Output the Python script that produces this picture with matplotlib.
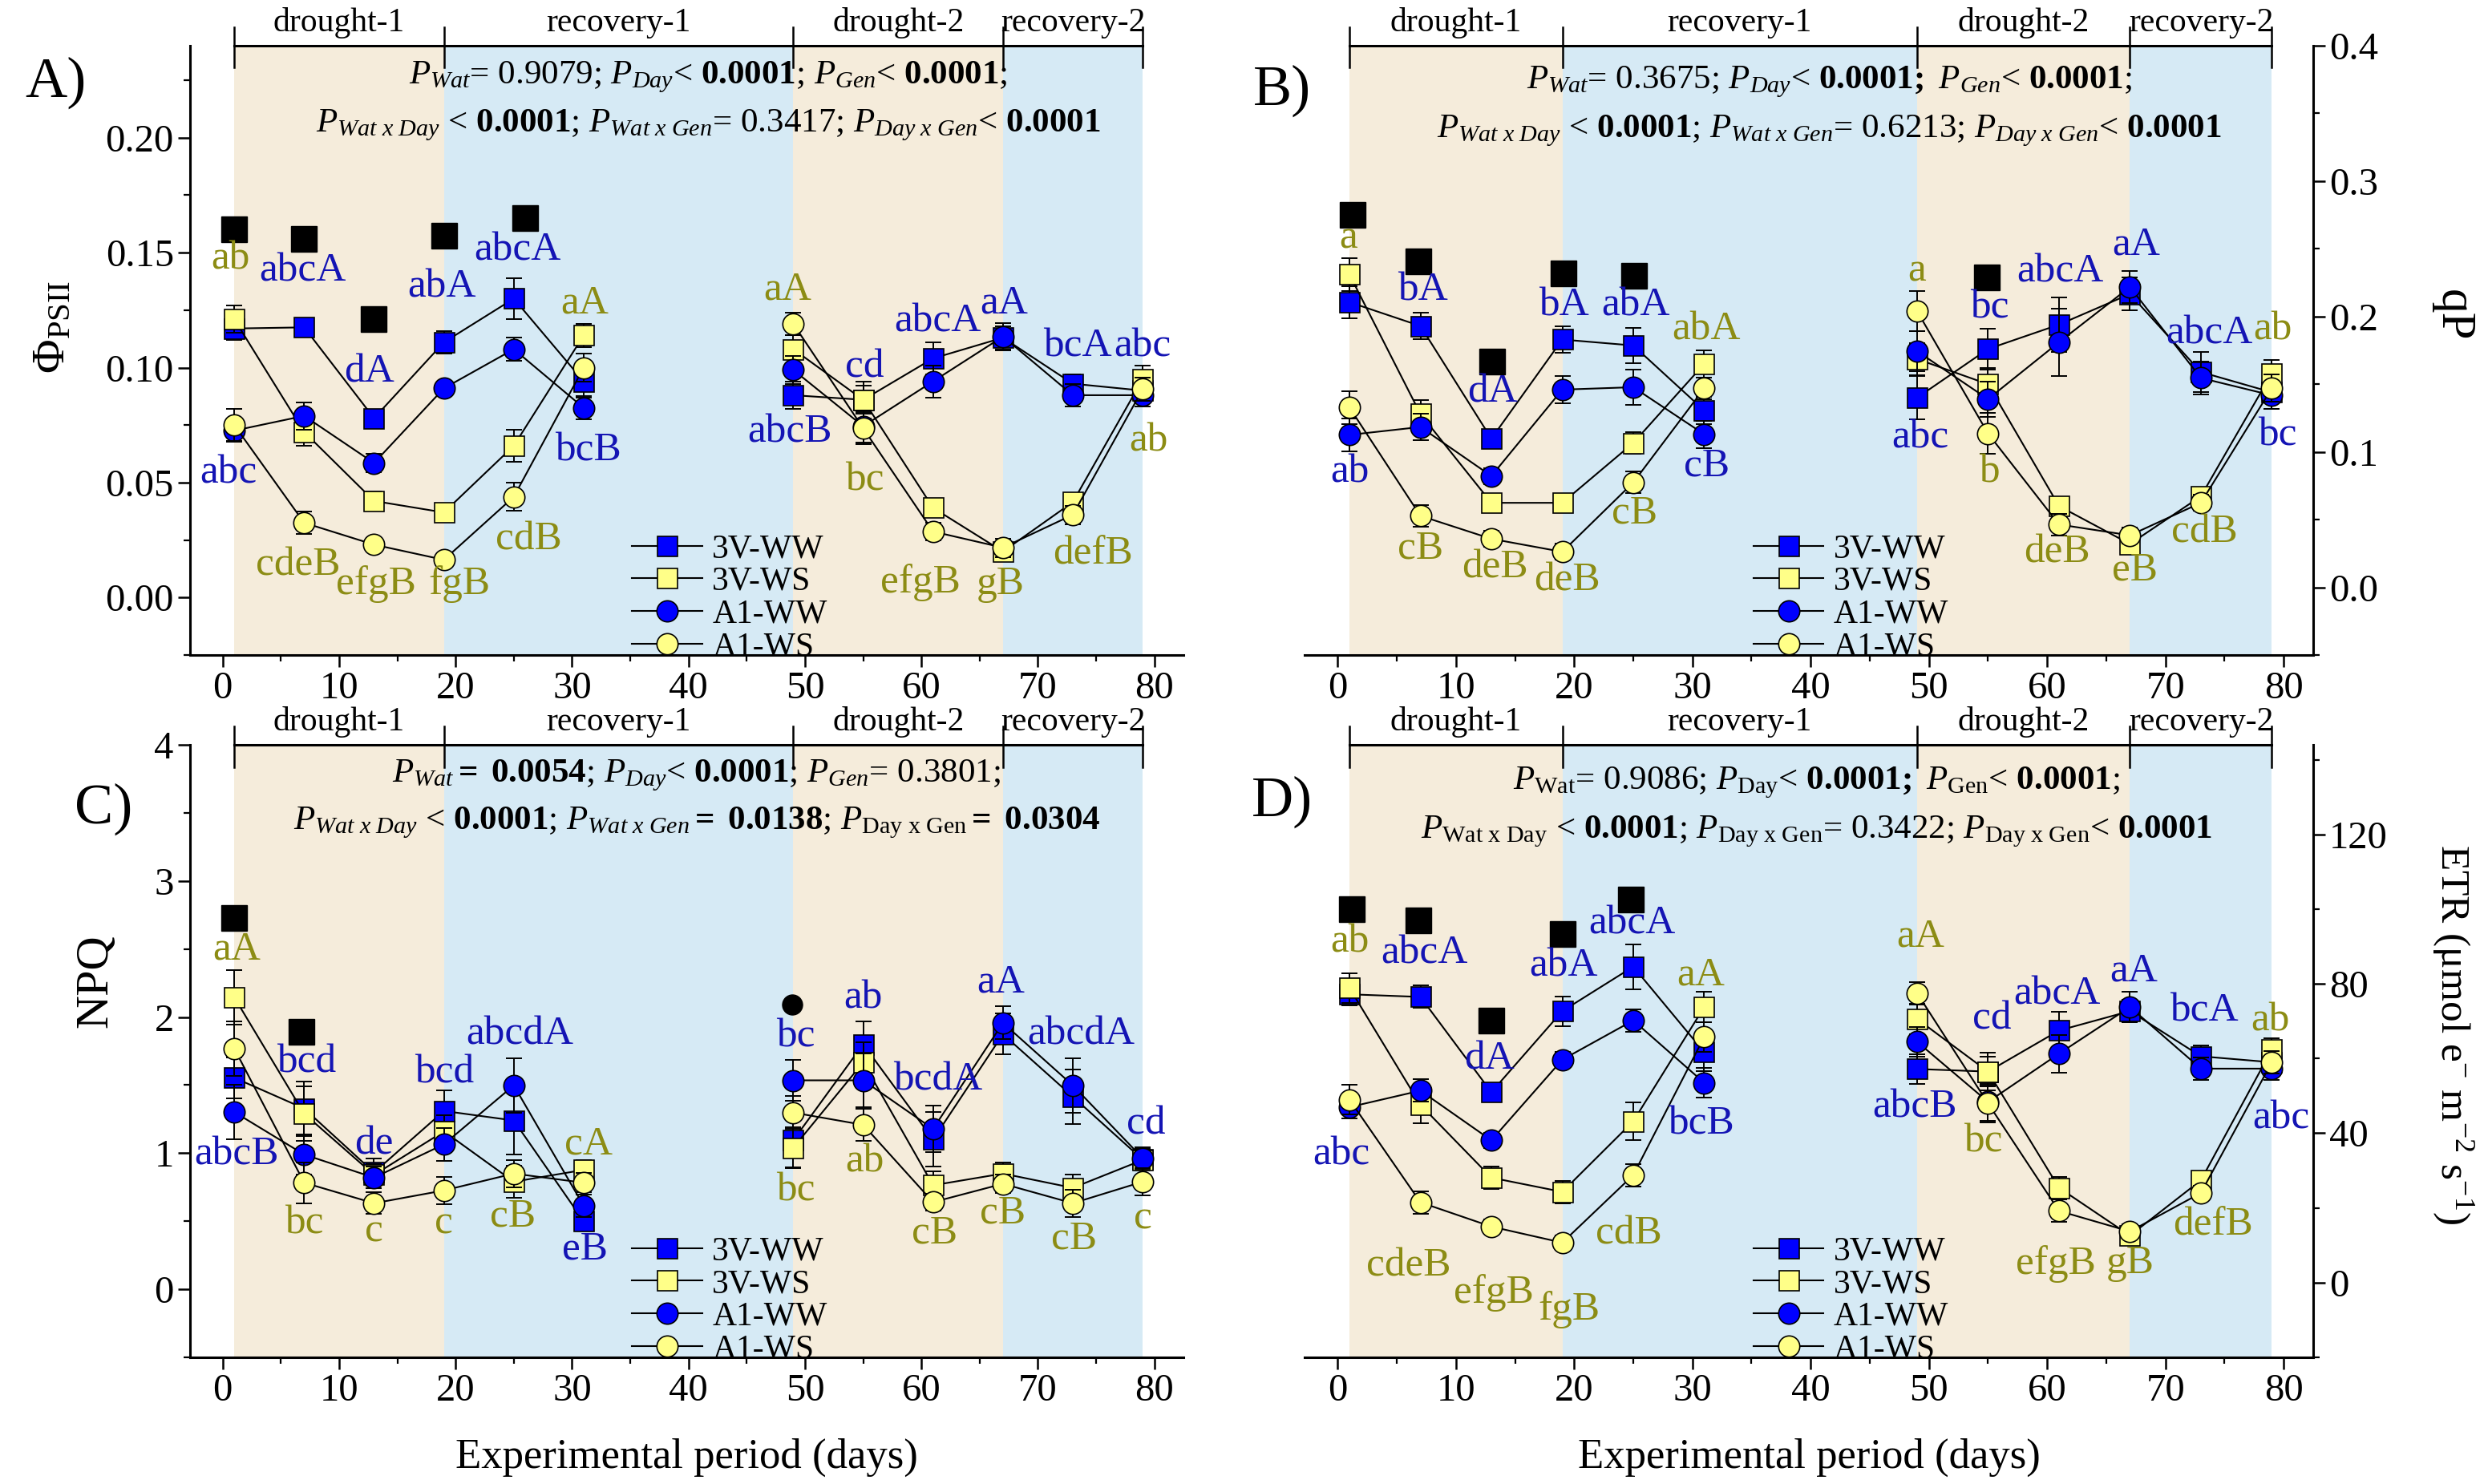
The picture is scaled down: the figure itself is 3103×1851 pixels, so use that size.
import matplotlib
matplotlib.use("Agg")
import matplotlib.pyplot as plt
import matplotlib.transforms as mtransforms
from matplotlib.lines import Line2D
from matplotlib.ticker import MultipleLocator, FormatStrFormatter

plt.rcParams['font.family'] = ['Liberation Serif', 'DejaVu Serif']
plt.rcParams['mathtext.fontset'] = 'custom'
plt.rcParams['mathtext.rm'] = 'Liberation Serif'
plt.rcParams['mathtext.it'] = 'Liberation Serif:italic'
plt.rcParams['mathtext.bf'] = 'Liberation Serif:bold'

# ---------------- data ----------------
days = [1, 7, 13, 19, 25, 31, 49, 55, 61, 67, 73, 79]
series = ['3V-WW', '3V-WS', 'A1-WW', 'A1-WS']
phase_edges = [1, 19, 49, 67, 79]
phase_names = ['drought-1', 'recovery-1', 'drought-2', 'recovery-2']

# Panel A: PhiPSII
phi_3v_ww = [0.117, 0.1175, 0.078, 0.111, 0.130, 0.094, 0.088, 0.086, 0.104, 0.113, 0.093, 0.090]
phi_3v_ws = [0.121, 0.072, 0.042, 0.037, 0.066, 0.114, 0.108, 0.086, 0.039, 0.020, 0.0415, 0.095]
phi_a1_ww = [0.0726, 0.079, 0.0585, 0.091, 0.108, 0.0825, 0.099, 0.0745, 0.094, 0.1135, 0.088, 0.088]
phi_a1_ws = [0.075, 0.0325, 0.023, 0.0164, 0.0438, 0.100, 0.119, 0.0736, 0.0287, 0.0217, 0.036, 0.0906]
phi_e_3v_ww = [0.005, 0.004, 0.003, 0.005, 0.009, 0.007, 0.006, 0.006, 0.007, 0.005, 0.004, 0.005]
phi_e_3v_ws = [0.006, 0.006, 0.004, 0.004, 0.007, 0.005, 0.006, 0.008, 0.004, 0.003, 0.003, 0.006]
phi_e_a1_ww = [0.005, 0.006, 0.004, 0.003, 0.005, 0.005, 0.006, 0.007, 0.007, 0.006, 0.005, 0.005]
phi_e_a1_ws = [0.007, 0.005, 0.003, 0.003, 0.006, 0.006, 0.005, 0.007, 0.004, 0.004, 0.004, 0.005]
phi_sig_days = [1, 7, 13, 19, 26]
phi_sig_vals = [0.160, 0.156, 0.121, 0.1575, 0.165]
phi_sig_mk = ['s', 's', 's', 's', 's']
phi_let_txt = ['ab', 'abcA', 'dA', 'abA', 'abcA', 'aA', 'abc', 'cdeB', 'efgB', 'fgB', 'cdB', 'bcB',
               'aA', 'abcB', 'cd', 'bc', 'abcA', 'efgB', 'aA', 'gB', 'bcA', 'defB', 'abc', 'ab']
phi_let_x = [0.7, 6.9, 12.6, 18.8, 25.3, 31.1, 0.5, 6.5, 13.2, 20.3, 26.3, 31.4,
             48.5, 48.7, 55.1, 55.1, 61.4, 59.9, 67.1, 66.8, 73.4, 74.7, 79.0, 79.5]
phi_let_y = [0.147, 0.142, 0.098, 0.135, 0.151, 0.128, 0.054, 0.014, 0.0057, 0.0057, 0.025, 0.064,
             0.134, 0.072, 0.100, 0.051, 0.120, 0.0066, 0.128, 0.0057, 0.109, 0.019, 0.109, 0.068]
phi_let_grp = ['o', 'b', 'b', 'b', 'b', 'o', 'b', 'o', 'o', 'o', 'o', 'b',
               'o', 'b', 'b', 'o', 'b', 'o', 'b', 'o', 'b', 'o', 'b', 'o']

# Panel B: qP
qp_3v_ww = [0.2106, 0.193, 0.1098, 0.183, 0.1786, 0.1306, 0.140, 0.176, 0.194, 0.2166, 0.159, 0.144]
qp_3v_ws = [0.231, 0.128, 0.0624, 0.0624, 0.1066, 0.165, 0.1686, 0.150, 0.060, 0.032, 0.0672, 0.158]
qp_a1_ww = [0.1126, 0.1184, 0.0822, 0.146, 0.1478, 0.113, 0.1744, 0.139, 0.181, 0.2218, 0.1546, 0.1418]
qp_a1_ws = [0.1328, 0.0528, 0.0358, 0.0262, 0.0774, 0.147, 0.204, 0.1136, 0.0464, 0.0384, 0.0624, 0.147]
qp_e_3v_ww = [0.012, 0.010, 0.006, 0.010, 0.013, 0.010, 0.016, 0.015, 0.020, 0.012, 0.015, 0.012]
qp_e_3v_ws = [0.012, 0.010, 0.005, 0.006, 0.008, 0.010, 0.012, 0.012, 0.006, 0.006, 0.005, 0.010]
qp_e_a1_ww = [0.012, 0.010, 0.006, 0.010, 0.013, 0.010, 0.015, 0.013, 0.025, 0.012, 0.012, 0.010]
qp_e_a1_ws = [0.012, 0.008, 0.006, 0.006, 0.008, 0.008, 0.015, 0.015, 0.008, 0.006, 0.006, 0.010]
qp_sig_days = [1.3, 6.8, 13.1, 19.1, 25.1, 54.9]
qp_sig_vals = [0.275, 0.2406, 0.167, 0.232, 0.2298, 0.2288]
qp_sig_mk = ['s', 's', 's', 's', 's', 's']
qp_let_txt = ['a', 'bA', 'dA', 'bA', 'abA', 'abA', 'ab', 'cB', 'deB', 'deB', 'cB', 'cB',
              'a', 'abc', 'bc', 'b', 'abcA', 'deB', 'aA', 'eB', 'abcA', 'cdB', 'ab', 'bc']
qp_let_x = [0.9, 7.2, 13.1, 19.1, 25.2, 31.2, 1.0, 7.0, 13.3, 19.4, 25.1, 31.2,
            49.0, 49.3, 55.1, 55.1, 61.1, 60.8, 67.5, 67.4, 73.7, 73.3, 79.1, 79.5]
qp_let_y = [0.2576, 0.219, 0.144, 0.208, 0.208, 0.190, 0.0848, 0.0288, 0.0144, 0.0048, 0.0544, 0.0896,
            0.2336, 0.1104, 0.2064, 0.0848, 0.2326, 0.0256, 0.2528, 0.0128, 0.1872, 0.0406, 0.190, 0.112]
qp_let_grp = ['o', 'b', 'b', 'b', 'b', 'o', 'b', 'o', 'o', 'o', 'o', 'b',
              'o', 'b', 'b', 'o', 'b', 'o', 'b', 'o', 'b', 'o', 'o', 'b']

# Panel C: NPQ
npq_3v_ww = [1.554, 1.328, 0.858, 1.31, 1.24, 0.50, 1.095, 1.80, 1.10, 1.874, 1.415, 0.952]
npq_3v_ws = [2.145, 1.29, 0.84, 1.16, 0.79, 0.877, 1.04, 1.667, 0.764, 0.85, 0.745, 0.95]
npq_a1_ww = [1.302, 0.99, 0.82, 1.065, 1.498, 0.613, 1.535, 1.535, 1.178, 1.957, 1.498, 0.963]
npq_a1_ws = [1.769, 0.783, 0.632, 0.726, 0.85, 0.783, 1.298, 1.208, 0.64, 0.775, 0.632, 0.79]
npq_e_3v_ww = [0.15, 0.20, 0.10, 0.15, 0.25, 0.05, 0.20, 0.17, 0.20, 0.15, 0.20, 0.08]
npq_e_3v_ws = [0.20, 0.20, 0.08, 0.12, 0.12, 0.07, 0.15, 0.15, 0.10, 0.08, 0.10, 0.08]
npq_e_a1_ww = [0.20, 0.15, 0.08, 0.12, 0.20, 0.08, 0.15, 0.20, 0.17, 0.12, 0.20, 0.08]
npq_e_a1_ws = [0.20, 0.15, 0.08, 0.10, 0.10, 0.07, 0.12, 0.12, 0.06, 0.07, 0.10, 0.10]
npq_sig_days = [1, 6.8, 48.9]
npq_sig_vals = [2.73, 1.89, 2.09]
npq_sig_mk = ['s', 's', 'o']
npq_let_txt = ['aA', 'bcd', 'de', 'bcd', 'abcdA', 'cA', 'abcB', 'bc', 'c', 'c', 'cB', 'eB',
               'bc', 'bc', 'ab', 'ab', 'bcdA', 'cB', 'aA', 'cB', 'abcdA', 'cB', 'cd', 'c']
npq_let_x = [1.2, 7.2, 13.0, 19.0, 25.5, 31.4, 1.2, 7.0, 13.0, 19.0, 24.9, 31.1,
             49.2, 49.2, 55.0, 55.1, 61.4, 61.1, 66.8, 67.0, 73.7, 73.1, 79.3, 79.0]
npq_let_y = [2.495, 1.667, 1.065, 1.592, 1.874, 1.065, 0.99, 0.482, 0.425, 0.482, 0.538, 0.293,
             1.855, 0.726, 2.137, 0.933, 1.535, 0.414, 2.258, 0.557, 1.874, 0.369, 1.215, 0.519]
npq_let_grp = ['o', 'b', 'b', 'b', 'b', 'o', 'b', 'o', 'o', 'o', 'o', 'b',
               'b', 'o', 'b', 'o', 'b', 'o', 'b', 'o', 'b', 'o', 'b', 'o']

# Panel D: ETR
etr_3v_ww = [77.2, 76.5, 51.0, 72.7, 84.6, 61.7, 57.2, 56.5, 67.5, 72.7, 60.6, 59.0]
etr_3v_ws = [78.9, 47.6, 28.1, 24.3, 43.2, 73.8, 70.6, 56.5, 25.4, 12.6, 27.4, 62.4]
etr_a1_ww = [47.0, 51.4, 38.1, 59.7, 70.2, 53.5, 64.5, 48.4, 61.3, 73.8, 57.3, 57.3]
etr_a1_ws = [49.0, 21.5, 15.0, 10.7, 28.8, 65.8, 77.5, 48.0, 19.2, 13.7, 24.0, 59.0]
etr_e_3v_ww = [3, 3, 2, 4, 6, 5, 4, 4, 5, 3, 3, 3]
etr_e_3v_ws = [4, 5, 3, 3, 5, 4, 4, 5, 3, 2, 2, 3]
etr_e_a1_ww = [3, 3, 2, 2, 3, 4, 4, 5, 5, 4, 3, 3]
etr_e_a1_ws = [4, 3, 2, 2, 3, 4, 3, 5, 3, 2, 2, 3]
etr_sig_days = [1.2, 6.8, 13.0, 19.0, 24.8]
etr_sig_vals = [100.1, 97.0, 70.2, 93.3, 102.5]
etr_sig_mk = ['s', 's', 's', 's', 's']
etr_let_txt = ['ab', 'abcA', 'dA', 'abA', 'abcA', 'aA', 'abc', 'cdeB', 'efgB', 'fgB', 'cdB', 'bcB',
               'aA', 'abcB', 'cd', 'bc', 'abcA', 'efgB', 'aA', 'gB', 'bcA', 'defB', 'ab', 'abc']
etr_let_x = [1.0, 7.3, 12.8, 19.1, 24.9, 30.7, 0.3, 6.0, 13.2, 19.6, 24.6, 30.7,
             49.3, 48.8, 55.3, 54.6, 60.8, 60.7, 67.3, 67.0, 73.3, 74.0, 78.9, 79.8]
etr_let_y = [91.2, 88.1, 59.9, 84.6, 96.0, 82.3, 34.3, 4.4, -2.7, -7.3, 13.0, 42.5,
             92.6, 46.9, 70.6, 37.7, 77.2, 5.1, 83.4, 5.1, 72.7, 15.4, 70.2, 43.9]
etr_let_grp = ['o', 'b', 'b', 'b', 'b', 'o', 'b', 'o', 'o', 'o', 'o', 'b',
               'o', 'b', 'b', 'o', 'b', 'o', 'b', 'o', 'b', 'o', 'o', 'b']

# ---------------- styles ----------------
BLUE = '#0000FF'
YEL = '#FFFF88'
TXT_COL = {'b': '#1414B4', 'o': '#8C8C14'}
SHADE = ['#F5ECDB', '#D6EAF5', '#F5ECDB', '#D6EAF5']
MK = {'3V-WW': ('s', BLUE), '3V-WS': ('s', YEL), 'A1-WW': ('o', BLUE), 'A1-WS': ('o', YEL)}
XLIM = (-2.8, 82.5)

W, H = 3103, 1851
fig = plt.figure(figsize=(W / 100, H / 100), dpi=100)


def px_axes(l, r, t, b):
    return fig.add_axes([l / W, (H - b) / H, (r - l) / W, (b - t) / H])


axA = px_axes(237, 1476, 57, 817)
axB = px_axes(1627, 2885, 57, 817)
axC = px_axes(237, 1476, 929, 1693)
axD = px_axes(1627, 2885, 929, 1693)


def draw_panel(ax, vals, errs, sig_d, sig_v, sig_m, lt, lx, ly, lg, ylim, major, minor,
               p1, p2, px, py1, py2, right=False):
    ax.set_xlim(*XLIM)
    ax.set_ylim(*ylim)
    for k in range(len(phase_names)):
        ax.axvspan(phase_edges[k], phase_edges[k + 1], color=SHADE[k], lw=0, zorder=0)
    tr = mtransforms.blended_transform_factory(ax.transData, ax.transAxes)
    ax.plot([phase_edges[0], phase_edges[-1]], [1, 1], transform=tr, color='k', lw=2.2,
            clip_on=False, zorder=6)
    for e in phase_edges:
        ax.plot([e, e], [1 - 0.036, 1 + 0.03], transform=tr, color='k', lw=1.8,
                clip_on=False, zorder=6)
    for k, nm in enumerate(phase_names):
        ax.text((phase_edges[k] + phase_edges[k + 1]) / 2, 1.012, nm, transform=tr,
                ha='center', va='bottom', fontsize=30)
    for i, nm in enumerate(series):
        mk, fc = MK[nm]
        ms = 18 if mk == 's' else 19
        for seg in (slice(0, 6), slice(6, 12)):
            ax.errorbar(days[seg], vals[i][seg], yerr=errs[i][seg], fmt='none', ecolor='k',
                        elinewidth=1.4, capsize=7, capthick=1.4, zorder=3 + i)
            ax.plot(days[seg], vals[i][seg], color='k', lw=1.5, marker=mk, mfc=fc, mec='k',
                    ms=ms, mew=1.2, zorder=3 + i)
    for d, v, m in zip(sig_d, sig_v, sig_m):
        ax.plot([d], [v], marker=m, color='k', ms=23 if m == 's' else 18, ls='none', zorder=8)
    for t, x, y, g in zip(lt, lx, ly, lg):
        ax.text(x, y, t, color=TXT_COL[g], fontsize=37, ha='center', va='center', zorder=9)
    ax.text(px, py1, p1, fontsize=31, ha='center', va='baseline', zorder=9)
    ax.text(px, py2, p2, fontsize=31, ha='center', va='baseline', zorder=9)

    handles = []
    for nm in series:
        mk, fc = MK[nm]
        handles.append(Line2D([], [], color='k', lw=1.5, marker=mk, mfc=fc, mec='k',
                              ms=18 if mk == 's' else 19, mew=1.2))
    ax.legend(handles, series, loc='lower left', bbox_to_anchor=(0.445, -0.012), frameon=False,
              fontsize=30, handlelength=2.1, handletextpad=0.3, labelspacing=0.05,
              borderpad=0, borderaxespad=0)

    ax.xaxis.set_major_locator(MultipleLocator(10))
    ax.xaxis.set_minor_locator(MultipleLocator(5))
    ax.yaxis.set_major_locator(MultipleLocator(major))
    ax.yaxis.set_minor_locator(MultipleLocator(minor))
    ax.spines['top'].set_visible(False)
    if right:
        ax.spines['left'].set_visible(False)
        ax.yaxis.tick_right()
        ax.yaxis.set_label_position('right')
    else:
        ax.spines['right'].set_visible(False)
    for s in ax.spines.values():
        s.set_linewidth(2.2)
    ax.tick_params(which='major', direction='out', length=11, width=1.8, labelsize=35)
    ax.tick_params(which='minor', direction='out', length=6, width=1.6)
    ax.patch.set_alpha(0)


draw_panel(axA, [phi_3v_ww, phi_3v_ws, phi_a1_ww, phi_a1_ws],
           [phi_e_3v_ww, phi_e_3v_ws, phi_e_a1_ww, phi_e_a1_ws],
           phi_sig_days, phi_sig_vals, phi_sig_mk,
           phi_let_txt, phi_let_x, phi_let_y, phi_let_grp,
           (-0.025, 0.24), 0.05, 0.025,
           r"$P_{Wat}$= 0.9079; $P_{Day}$< $\mathbf{0.0001}$; $P_{Gen}$< $\mathbf{0.0001}$;",
           r"$P_{Wat\ x\ Day}$ < $\mathbf{0.0001}$; $P_{Wat\ x\ Gen}$= 0.3417; $P_{Day\ x\ Gen}$< $\mathbf{0.0001}$",
           41.7, 0.2234, 0.2026)
axA.yaxis.set_major_formatter(FormatStrFormatter('%.2f'))

draw_panel(axB, [qp_3v_ww, qp_3v_ws, qp_a1_ww, qp_a1_ws],
           [qp_e_3v_ww, qp_e_3v_ws, qp_e_a1_ww, qp_e_a1_ws],
           qp_sig_days, qp_sig_vals, qp_sig_mk,
           qp_let_txt, qp_let_x, qp_let_y, qp_let_grp,
           (-0.05, 0.4), 0.1, 0.05,
           r"$P_{Wat}$= 0.3675; $P_{Day}$< $\mathbf{0.0001;}$ $P_{Gen}$< $\mathbf{0.0001}$;",
           r"$P_{Wat\ x\ Day}$ < $\mathbf{0.0001}$; $P_{Wat\ x\ Gen}$= 0.6213; $P_{Day\ x\ Gen}$< $\mathbf{0.0001}$",
           41.6, 0.3683, 0.3325, right=True)
axB.yaxis.set_major_formatter(FormatStrFormatter('%.1f'))

draw_panel(axC, [npq_3v_ww, npq_3v_ws, npq_a1_ww, npq_a1_ws],
           [npq_e_3v_ww, npq_e_3v_ws, npq_e_a1_ww, npq_e_a1_ws],
           npq_sig_days, npq_sig_vals, npq_sig_mk,
           npq_let_txt, npq_let_x, npq_let_y, npq_let_grp,
           (-0.5, 4.0), 1, 0.5,
           r"$P_{Wat}$$\mathbf{=\ 0.0054}$; $P_{Day}$< $\mathbf{0.0001}$; $P_{Gen}$= 0.3801;",
           r"$P_{Wat\ x\ Day}$ < $\mathbf{0.0001}$; $P_{Wat\ x\ Gen}$$\mathbf{=\ 0.0138}$; $P_{\mathrm{Day\ x\ Gen}}$$\mathbf{=\ 0.0304}$",
           40.7, 3.729, 3.379)

draw_panel(axD, [etr_3v_ww, etr_3v_ws, etr_a1_ww, etr_a1_ws],
           [etr_e_3v_ww, etr_e_3v_ws, etr_e_a1_ww, etr_e_a1_ws],
           etr_sig_days, etr_sig_vals, etr_sig_mk,
           etr_let_txt, etr_let_x, etr_let_y, etr_let_grp,
           (-20, 144), 40, 20,
           r"$P_{\mathrm{Wat}}$= 0.9086; $P_{\mathrm{Day}}$< $\mathbf{0.0001;}$ $P_{\mathrm{Gen}}$< $\mathbf{0.0001}$;",
           r"$P_{\mathrm{Wat\ x\ Day}}$ < $\mathbf{0.0001}$; $P_{\mathrm{Day\ x\ Gen}}$= 0.3422; $P_{\mathrm{Day\ x\ Gen}}$< $\mathbf{0.0001}$",
           40.5, 132.1, 119.1, right=True)

# axis labels
axA.set_ylabel(r"$\Phi_{\mathrm{PSII}}$", fontsize=42)
axA.yaxis.set_label_coords(-0.117, 0.538)
axC.set_ylabel("NPQ", fontsize=42)
axC.yaxis.set_label_coords(-0.074, 0.614)
axB.set_ylabel("qP", fontsize=44, rotation=270, va='center')
axB.yaxis.set_label_coords(1.138, 0.558)
axD.set_ylabel(r"ETR (μmol e$^{-}$ m$^{-2}$ s$^{-1}$)", fontsize=37, rotation=270, va='center')
axD.yaxis.set_label_coords(1.138, 0.527)
for ax in (axC, axD):
    ax.set_xlabel("Experimental period (days)", fontsize=38, labelpad=26)

# panel labels
fig.text(69 / W, 1 - 103 / H, "A)", fontsize=52, ha='center', va='center')
fig.text(1599 / W, 1 - 113 / H, "B)", fontsize=52, ha='center', va='center')
fig.text(129 / W, 1 - 1009 / H, "C)", fontsize=52, ha='center', va='center')
fig.text(1599 / W, 1 - 1000 / H, "D)", fontsize=52, ha='center', va='center')

fig.savefig("out.png", dpi=100)
